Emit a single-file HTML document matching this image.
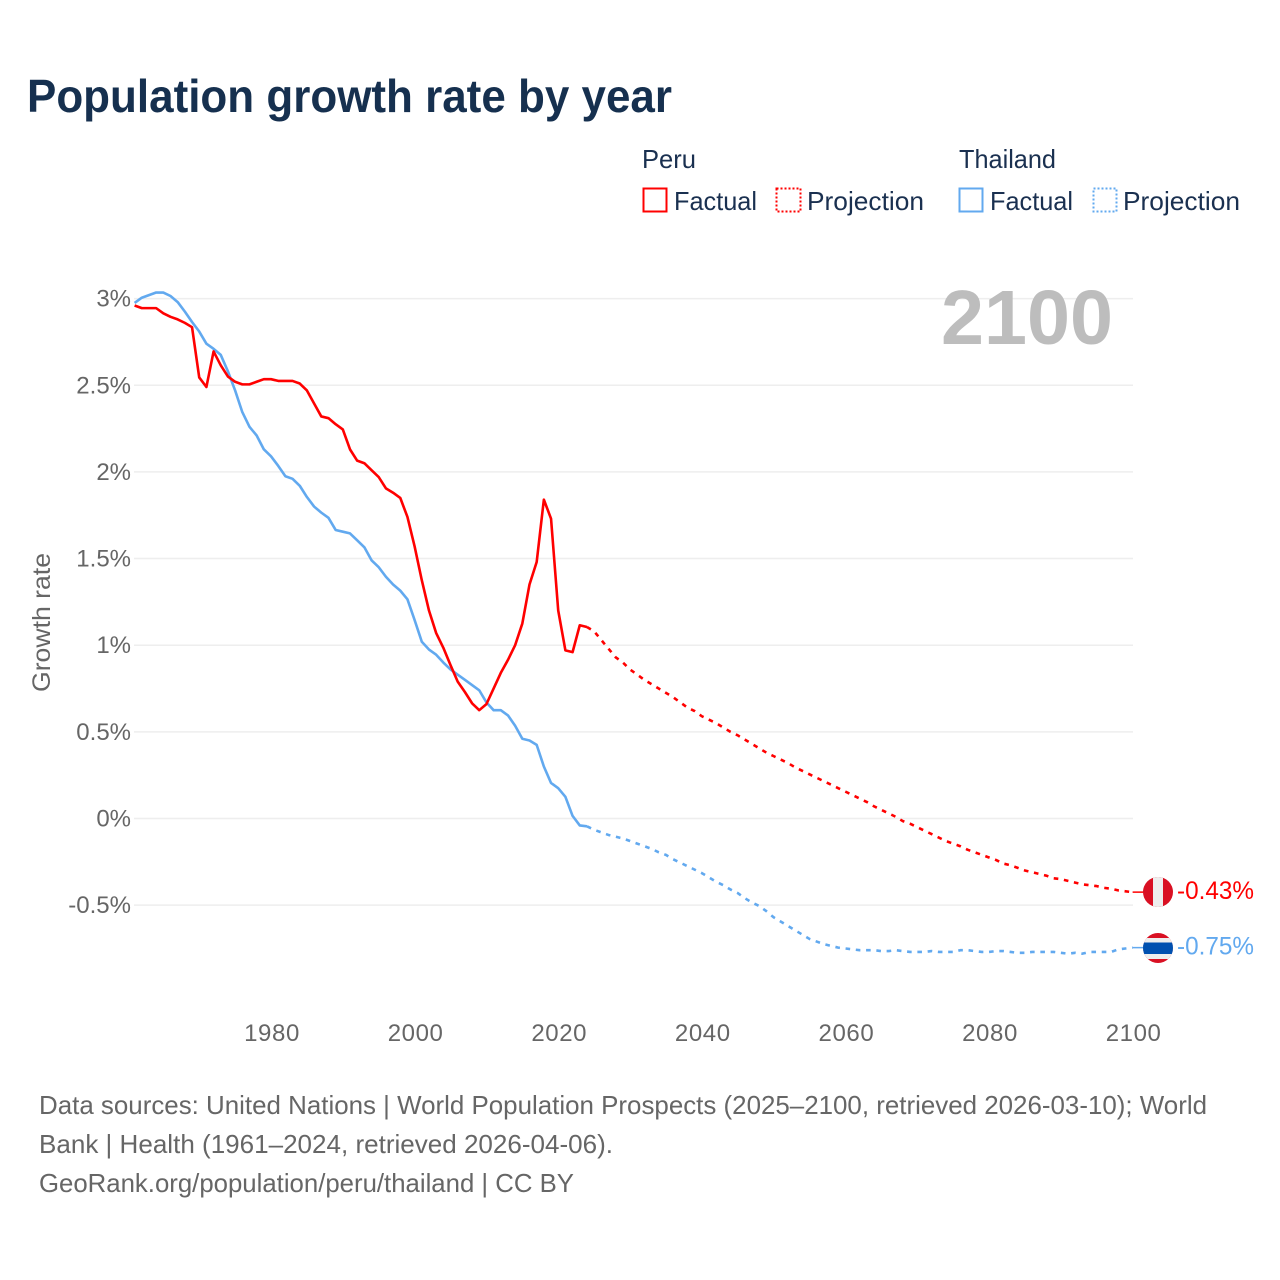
<!DOCTYPE html>
<html lang="en">
<head>
<meta charset="utf-8">
<title>Population growth rate by year</title>
<style>
html,body{margin:0;padding:0;background:#fff;}
svg{display:block;font-family:"Liberation Sans",sans-serif;}
</style>
</head>
<body>
<svg id="chart" xmlns="http://www.w3.org/2000/svg" width="1280" height="1280" viewBox="0 0 1280 1280">
  <rect x="0" y="0" width="1280" height="1280" fill="#ffffff"/>
  <text x="27" y="112" font-size="46" font-weight="700" fill="#16304f" textLength="645" lengthAdjust="spacingAndGlyphs">Population growth rate by year</text>

  <g font-size="26" fill="#1a3050">
    <text x="642" y="168" textLength="54" lengthAdjust="spacingAndGlyphs">Peru</text>
    <text x="959" y="168" textLength="97" lengthAdjust="spacingAndGlyphs">Thailand</text>
    <rect x="643.5" y="188.5" width="23" height="23" fill="none" stroke="#ff0000" stroke-width="2"/>
    <text x="674" y="210" textLength="83" lengthAdjust="spacingAndGlyphs">Factual</text>
    <rect x="776.5" y="188.5" width="24" height="23" fill="none" stroke="#ff0000" stroke-width="2" stroke-dasharray="2 2"/>
    <text x="807" y="210" textLength="117" lengthAdjust="spacingAndGlyphs">Projection</text>
    <rect x="959.5" y="188.5" width="23" height="23" fill="none" stroke="#62a9ef" stroke-width="2"/>
    <text x="990" y="210" textLength="83" lengthAdjust="spacingAndGlyphs">Factual</text>
    <rect x="1093.5" y="188.5" width="23" height="23" fill="none" stroke="#62a9ef" stroke-width="2" stroke-dasharray="2 2"/>
    <text x="1123" y="210" textLength="117" lengthAdjust="spacingAndGlyphs">Projection</text>
  </g>

  <g id="grid"></g>
  <g id="yticks"></g>
  <g id="xticks"></g>

  <text x="941" y="344" font-size="77" font-weight="700" fill="#bdbdbd" textLength="172" lengthAdjust="spacingAndGlyphs">2100</text>
  <text transform="translate(50,692) rotate(-90)" x="0" y="0" font-size="25" fill="#666666" textLength="139" lengthAdjust="spacingAndGlyphs">Growth rate</text>

  <g id="series"></g>

  <defs>
    <clipPath id="flag-clip-peru"><circle id="clip-peru" cx="1158" cy="892" r="15"/></clipPath>
    <clipPath id="flag-clip-thailand"><circle id="clip-thailand" cx="1158" cy="948" r="15"/></clipPath>
  </defs>
  <g id="flag-peru" clip-path="url(#flag-clip-peru)">
    <rect x="1143" y="870" width="30" height="45" fill="#d91023"/>
    <rect x="1153" y="870" width="10" height="45" fill="#eeeeee"/>
  </g>
  <g id="flag-thailand" clip-path="url(#flag-clip-thailand)">
    <rect x="1143" y="925" width="30" height="46" fill="#d91023"/>
    <rect x="1143" y="938" width="30" height="21" fill="#eeeeee"/>
    <rect x="1143" y="942.5" width="30" height="11.5" fill="#0050b0"/>
  </g>

  <g font-size="26" fill="#666666">
    <text x="39" y="1114" textLength="1168" lengthAdjust="spacingAndGlyphs">Data sources: United Nations | World Population Prospects (2025–2100, retrieved 2026-03-10); World</text>
    <text x="39" y="1153" textLength="574" lengthAdjust="spacingAndGlyphs">Bank | Health (1961–2024, retrieved 2026-04-06).</text>
    <text x="39" y="1192" textLength="535" lengthAdjust="spacingAndGlyphs">GeoRank.org/population/peru/thailand | CC BY</text>
  </g>
</svg>
<script>
const factualStartYear = 1961;
const projectionStartYear = 2024;
const yTickValues = [3, 2.5, 2, 1.5, 1, 0.5, 0, -0.5];
const yTickLabels = ['3%', '2.5%', '2%', '1.5%', '1%', '0.5%', '0%', '-0.5%'];
const xTickValues = [1980, 2000, 2020, 2040, 2060, 2080, 2100];
const xTickLabels = ['1980', '2000', '2020', '2040', '2060', '2080', '2100'];

// Peru factual, 1961-2024
const peruFactual = [2.96,2.945,2.945,2.945,2.915,2.895,2.88,2.86,2.835,2.545,2.49,2.695,2.615,2.55,2.52,2.505,2.505,2.52,2.535,2.535,
2.525,2.525,2.525,2.51,2.47,2.395,2.32,2.31,2.275,2.245,2.13,2.065,2.05,2.01,1.97,1.905,1.88,1.85,1.74,1.57,
1.375,1.2,1.07,0.985,0.885,0.79,0.73,0.665,0.625,0.66,0.75,0.84,0.915,1.0,1.125,1.35,1.48,1.84,1.73,1.2,
0.97,0.96,1.115,1.105];
// Peru projection, 2024-2100
const peruProjection = [1.105,1.08,1.03,0.98,0.93,0.9,0.86,0.83,0.8,0.775,0.75,0.725,0.7,0.67,0.64,0.62,0.59,0.57,0.55,0.525,0.5,
0.48,0.455,0.43,0.405,0.38,0.36,0.34,0.32,0.295,0.275,0.255,0.235,0.215,0.195,0.175,0.155,0.135,0.115,0.095,0.07,
0.05,0.03,0.01,-0.015,-0.03,-0.05,-0.07,-0.09,-0.11,-0.13,-0.145,-0.16,-0.18,-0.195,-0.21,-0.225,-0.24,-0.26,-0.27,-0.285,
-0.3,-0.31,-0.32,-0.33,-0.345,-0.35,-0.36,-0.37,-0.38,-0.385,-0.39,-0.4,-0.405,-0.415,-0.42,-0.425];
// Thailand factual, 1961-2024
const thailandFactual = [2.975,3.005,3.02,3.035,3.035,3.015,2.98,2.925,2.865,2.81,2.74,2.71,2.675,2.58,2.47,2.345,2.26,2.21,2.13,2.09,
2.035,1.975,1.96,1.92,1.855,1.8,1.765,1.735,1.665,1.655,1.645,1.605,1.565,1.49,1.45,1.395,1.35,1.315,1.265,1.145,
1.02,0.975,0.945,0.9,0.86,0.83,0.8,0.77,0.74,0.67,0.625,0.625,0.595,0.535,0.46,0.45,0.425,0.3,0.205,0.175,
0.125,0.015,-0.04,-0.045];
// Thailand projection, 2024-2100
const thailandProjection = [-0.045,-0.065,-0.08,-0.095,-0.105,-0.115,-0.13,-0.145,-0.16,-0.175,-0.195,-0.21,-0.235,-0.255,-0.275,-0.295,-0.315,-0.34,-0.365,-0.385,-0.41,
-0.43,-0.46,-0.485,-0.505,-0.535,-0.57,-0.595,-0.62,-0.645,-0.67,-0.695,-0.71,-0.725,-0.735,-0.745,-0.75,-0.755,-0.76,-0.76,-0.76,
-0.765,-0.765,-0.76,-0.765,-0.77,-0.77,-0.77,-0.765,-0.77,-0.77,-0.77,-0.76,-0.76,-0.765,-0.77,-0.77,-0.765,-0.765,-0.77,-0.775,
-0.775,-0.77,-0.77,-0.77,-0.77,-0.775,-0.78,-0.775,-0.78,-0.77,-0.77,-0.77,-0.77,-0.755,-0.75,-0.745];
const endLabels = ['-0.43%', '-0.75%'];

const RED = '#ff0000';
const BLUE = '#62a9ef';
const NS = 'http://www.w3.org/2000/svg';
function xScale(year) { return 134.6 + (year - 1961) * 7.18; }
function yScale(value) { return 818.5 - value * 173.3; }
function make(tag, parent) {
  const el = document.createElementNS(NS, tag);
  parent.appendChild(el);
  return el;
}
function pathFrom(values, startYear) {
  return values.map(function (v, i) {
    return (i ? 'L' : 'M') + xScale(startYear + i).toFixed(2) + ' ' + yScale(v).toFixed(2);
  }).join(' ');
}

const gridGroup = document.getElementById('grid');
const yTickGroup = document.getElementById('yticks');
const xTickGroup = document.getElementById('xticks');
const seriesGroup = document.getElementById('series');

yTickValues.forEach(function (v, i) {
  const line = make('line', gridGroup);
  
  
  line.setAttribute('x1', 134);
  line.setAttribute('x2', 1133);
  line.setAttribute('y1', yScale(v));
  line.setAttribute('y2', yScale(v));
  line.setAttribute('stroke', '#eeeeee');
  line.setAttribute('stroke-width', 1.5);
  const label = make('text', yTickGroup);
  
  
  label.setAttribute('x', 131);
  label.setAttribute('y', yScale(v) + 8);
  label.setAttribute('text-anchor', 'end');
  label.setAttribute('font-size', 24);
  label.setAttribute('fill', '#666666');
  label.textContent = yTickLabels[i];
});

xTickValues.forEach(function (year, i) {
  const label = make('text', xTickGroup);
  
  
  label.setAttribute('x', xScale(year) + 1);
  label.setAttribute('y', 1041);
  label.setAttribute('text-anchor', 'middle');
  label.setAttribute('font-size', 24);
  label.setAttribute('letter-spacing', '0.6');
  label.setAttribute('fill', '#666666');
  label.textContent = xTickLabels[i];
});

function styleLine(el, color) {
  el.setAttribute('fill', 'none');
  el.setAttribute('stroke', color);
  el.setAttribute('stroke-width', 2.6);
  el.setAttribute('stroke-linejoin', 'round');
}

const thaiFactualPath = make('path', seriesGroup);


thaiFactualPath.setAttribute('d', pathFrom(thailandFactual, factualStartYear));
styleLine(thaiFactualPath, BLUE);

const thaiProjectionPath = make('path', seriesGroup);


thaiProjectionPath.setAttribute('d', pathFrom(thailandProjection, projectionStartYear));
thaiProjectionPath.setAttribute('stroke-dasharray', '4.6 5.7');
styleLine(thaiProjectionPath, BLUE);

const peruFactualPath = make('path', seriesGroup);


peruFactualPath.setAttribute('d', pathFrom(peruFactual, factualStartYear));
styleLine(peruFactualPath, RED);

const peruProjectionPath = make('path', seriesGroup);


peruProjectionPath.setAttribute('d', pathFrom(peruProjection, projectionStartYear));
peruProjectionPath.setAttribute('stroke-dasharray', '4.6 5.7');
styleLine(peruProjectionPath, RED);

const peruEndY = yScale(peruProjection[peruProjection.length - 1]);
const thaiEndY = yScale(thailandProjection[thailandProjection.length - 1]);
const endX = xScale(2100);

const peruConnector = make('line', seriesGroup);


peruConnector.setAttribute('x1', endX);
peruConnector.setAttribute('x2', 1150);
peruConnector.setAttribute('y1', peruEndY);
peruConnector.setAttribute('y2', peruEndY);
peruConnector.setAttribute('stroke', RED);
peruConnector.setAttribute('stroke-width', 1.5);

const thaiConnector = make('line', seriesGroup);


thaiConnector.setAttribute('x1', endX);
thaiConnector.setAttribute('x2', 1150);
thaiConnector.setAttribute('y1', thaiEndY);
thaiConnector.setAttribute('y2', thaiEndY);
thaiConnector.setAttribute('stroke', BLUE);
thaiConnector.setAttribute('stroke-width', 1.5);

const peruEndLabel = make('text', seriesGroup);


peruEndLabel.setAttribute('x', 1177);
peruEndLabel.setAttribute('y', peruEndY + 7);
peruEndLabel.setAttribute('font-size', 25);
peruEndLabel.setAttribute('fill', RED);
peruEndLabel.setAttribute('textLength', 77);
peruEndLabel.setAttribute('lengthAdjust', 'spacingAndGlyphs');
peruEndLabel.textContent = endLabels[0];

const thaiEndLabel = make('text', seriesGroup);


thaiEndLabel.setAttribute('x', 1177);
thaiEndLabel.setAttribute('y', thaiEndY + 7);
thaiEndLabel.setAttribute('font-size', 25);
thaiEndLabel.setAttribute('fill', BLUE);
thaiEndLabel.setAttribute('textLength', 77);
thaiEndLabel.setAttribute('lengthAdjust', 'spacingAndGlyphs');
thaiEndLabel.textContent = endLabels[1];
</script>
</body>
</html>
